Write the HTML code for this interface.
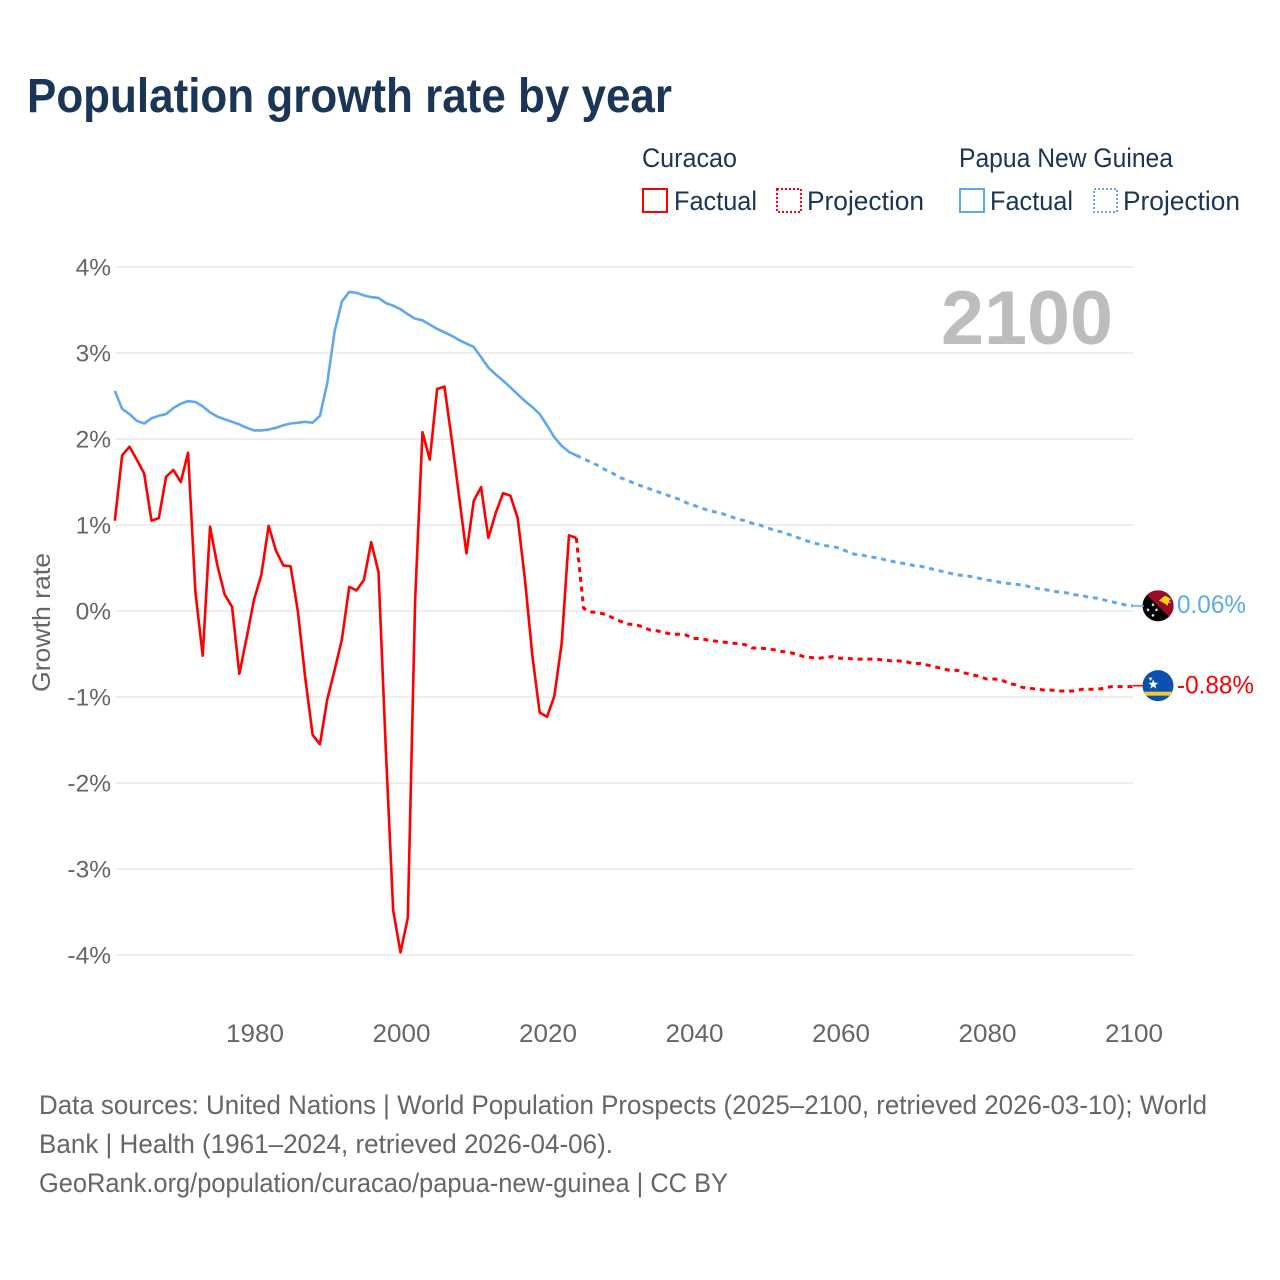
<!DOCTYPE html>
<html lang="en">
<head>
<meta charset="utf-8">
<title>Population growth rate by year</title>
<style>
html,body{margin:0;padding:0;background:#fff;}
svg{display:block;font-family:"Liberation Sans",sans-serif;}
</style>
</head>
<body>
<svg id="chart" xmlns="http://www.w3.org/2000/svg" width="1280" height="1280" viewBox="0 0 1280 1280">
  <defs>
    <clipPath id="flag-clip-a"><circle cx="0" cy="0" r="15.5"/></clipPath>
    <clipPath id="flag-clip-b"><circle cx="0" cy="0" r="15.5"/></clipPath>
  </defs>
  <rect width="1280" height="1280" fill="#fff"/>
  <text x="27" y="112" font-size="48" font-weight="700" fill="#1a3556" textLength="645" lengthAdjust="spacingAndGlyphs">Population growth rate by year</text>

  <g font-size="27" fill="#1a3556">
    <text x="642" y="167" textLength="95" lengthAdjust="spacingAndGlyphs">Curacao</text>
    <text x="959" y="167" textLength="214" lengthAdjust="spacingAndGlyphs">Papua New Guinea</text>
    <rect x="643" y="189" width="24" height="23" fill="none" stroke="#ff0000" stroke-width="2"/>
    <text x="674" y="210" textLength="83" lengthAdjust="spacingAndGlyphs">Factual</text>
    <rect x="777" y="189" width="24" height="23" fill="none" stroke="#ff0000" stroke-width="2" stroke-dasharray="2,2"/>
    <text x="807" y="210" textLength="117" lengthAdjust="spacingAndGlyphs">Projection</text>
    <rect x="960" y="189" width="24" height="23" fill="none" stroke="#5ea9ee" stroke-width="2"/>
    <text x="990" y="210" textLength="83" lengthAdjust="spacingAndGlyphs">Factual</text>
    <rect x="1094" y="189" width="23" height="23" fill="none" stroke="#5ea9ee" stroke-width="2" stroke-dasharray="2,2"/>
    <text x="1123" y="210" textLength="117" lengthAdjust="spacingAndGlyphs">Projection</text>
  </g>

  <g id="grid"></g>
  <g id="yticks"></g>
  <g id="xticks"></g>
  <text x="941" y="344" font-size="76" font-weight="700" fill="#bdbdbd" textLength="172" lengthAdjust="spacingAndGlyphs">2100</text>
  <text transform="translate(50,692) rotate(-90)" font-size="25" fill="#666" textLength="139" lengthAdjust="spacingAndGlyphs">Growth rate</text>
  <g id="series"></g>

  <g id="flag-png">
    <g clip-path="url(#flag-clip-a)">
      <rect x="-16" y="-16" width="32" height="32" fill="#000"/>
      <polygon points="-16,-16 16,-16 16,16" fill="#9b0b24"/>
      <polygon points="3,-10 6,-11 9,-9 11,-8 9,-6 11,-4 8,-4 8,-1 5,-3 2,-5 -1,-6 1,-8" fill="#fcd116" transform="translate(2,1)"/>
      <circle cx="-5" cy="-1" r="1.3" fill="#ddd"/>
      <circle cx="-10" cy="4" r="1.3" fill="#ddd"/>
      <circle cx="-1.5" cy="4" r="1.3" fill="#ddd"/>
      <circle cx="-5" cy="9.5" r="1.3" fill="#ddd"/>
    </g>
  </g>
  <g id="flag-cur">
    <g clip-path="url(#flag-clip-b)">
      <rect x="-16" y="-16" width="32" height="32" fill="#0a50b0"/>
      <rect x="-16" y="6" width="32" height="4" fill="#f9c62b"/>
      <polygon points="-5,-6.5 -3.6,-2.6 0.5,-2.6 -2.8,0 -1.6,4 -5,1.6 -8.4,4 -7.2,0 -10.5,-2.6 -6.4,-2.6" fill="#fff" transform="translate(-0.2,-0.6) scale(.9)"/>
      <polygon points="-10.5,-9 -6,-9 -8.2,-5.5" fill="#fff" transform="scale(.9)"/>
    </g>
  </g>

  <g id="end-labels"></g>

  <g font-size="26.5" fill="#666">
    <text x="39" y="1114" textLength="1168" lengthAdjust="spacingAndGlyphs">Data sources: United Nations | World Population Prospects (2025–2100, retrieved 2026-03-10); World</text>
    <text x="39" y="1153" textLength="574" lengthAdjust="spacingAndGlyphs">Bank | Health (1961–2024, retrieved 2026-04-06).</text>
    <text x="39" y="1192" textLength="689" lengthAdjust="spacingAndGlyphs">GeoRank.org/population/curacao/papua-new-guinea | CC BY</text>
  </g>
</svg>
<script>
const yTicks = [4, 3, 2, 1, 0, -1, -2, -3, -4];
const xTicks = [1980, 2000, 2020, 2040, 2060, 2080, 2100];
const factualStart = 1961;
const projectionStart = 2024;
const curacaoFactual = [
  1.05,1.81,1.91,1.76,1.60,1.05,1.08,1.56,1.64,1.50,
  1.84,0.22,-0.52,0.98,0.53,0.19,0.05,-0.73,-0.31,0.13,
  0.42,0.99,0.70,0.53,0.52,-0.01,-0.78,-1.44,-1.55,-1.03,
  -0.69,-0.33,0.28,0.24,0.36,0.80,0.45,-1.62,-3.48,-3.97,
  -3.57,0.13,2.08,1.76,2.58,2.61,1.99,1.33,0.67,1.28,
  1.44,0.85,1.14,1.37,1.34,1.08,0.36,-0.52,-1.18,-1.23,
  -0.99,-0.38,0.88,0.85
];
const curacaoProjection = [
  0.85,0.03,-0.01,-0.02,-0.04,-0.08,
  -0.12,-0.15,-0.16,-0.18,-0.22,-0.23,-0.25,-0.27,-0.27,-0.28,
  -0.32,-0.32,-0.34,-0.35,-0.36,-0.37,-0.38,-0.39,-0.43,-0.43,
  -0.44,-0.45,-0.47,-0.48,-0.50,-0.53,-0.54,-0.55,-0.54,-0.53,
  -0.55,-0.55,-0.56,-0.56,-0.56,-0.56,-0.57,-0.58,-0.58,-0.59,
  -0.61,-0.61,-0.63,-0.65,-0.67,-0.69,-0.69,-0.72,-0.74,-0.76,
  -0.79,-0.79,-0.80,-0.84,-0.86,-0.89,-0.90,-0.91,-0.92,-0.92,
  -0.93,-0.93,-0.93,-0.91,-0.91,-0.91,-0.90,-0.88,-0.88,-0.88,
  -0.88
];
const pngFactual = [
  2.56,2.35,2.29,2.21,2.18,2.24,2.27,2.29,2.36,2.41,
  2.44,2.43,2.38,2.31,2.26,2.23,2.20,2.17,2.13,2.10,
  2.10,2.11,2.13,2.16,2.18,2.19,2.20,2.19,2.27,2.65,
  3.25,3.60,3.71,3.70,3.67,3.65,3.64,3.58,3.55,3.51,
  3.45,3.40,3.38,3.33,3.28,3.24,3.20,3.15,3.11,3.07,
  2.95,2.83,2.75,2.68,2.60,2.52,2.44,2.37,2.29,2.16,
  2.02,1.92,1.85,1.81
];
const pngProjection = [
  1.81,1.77,1.73,1.69,1.64,1.60,
  1.55,1.52,1.48,1.45,1.42,1.39,1.36,1.33,1.30,1.26,
  1.23,1.20,1.17,1.15,1.13,1.10,1.07,1.05,1.02,1.00,
  0.97,0.94,0.92,0.89,0.86,0.83,0.80,0.78,0.76,0.75,
  0.73,0.69,0.66,0.65,0.63,0.62,0.60,0.58,0.56,0.55,
  0.53,0.52,0.50,0.48,0.46,0.44,0.42,0.41,0.40,0.38,
  0.36,0.35,0.33,0.32,0.31,0.30,0.28,0.26,0.25,0.23,
  0.22,0.21,0.19,0.18,0.16,0.15,0.13,0.11,0.09,0.07,
  0.06
];

const NS = 'http://www.w3.org/2000/svg';
function xScale(year) { return 254 + (year - 1980) * (1133 - 254) / 120; }
function yScale(v) { return 611 - v * 86; }
function make(tag, attrs, parent, text) {
  const el = document.createElementNS(NS, tag);
  for (const k in attrs) el.setAttribute(k, attrs[k]);
  if (text !== undefined) el.textContent = text;
  parent.appendChild(el);
  return el;
}
function linePath(values, start) {
  return values.map((v, i) => (i ? 'L' : 'M') + xScale(start + i).toFixed(2) + ' ' + yScale(v).toFixed(2)).join(' ');
}

const gridG = document.getElementById('grid');
const yG = document.getElementById('yticks');
yTicks.forEach(t => {
  const g = make('line', {x1: 116, x2: 1133, y1: yScale(t), y2: yScale(t), stroke: '#e9e9e9', 'stroke-width': 1.5}, gridG);
  
  
  const l = make('text', {x: 111, y: yScale(t) + 8.5, 'text-anchor': 'end', 'font-size': 24.5, fill: '#666'}, yG, t + '%');
  
  
});

const xG = document.getElementById('xticks');
xTicks.forEach(t => {
  const l = make('text', {x: xScale(t) + 1, y: 1042, 'text-anchor': 'middle', 'font-size': 25, fill: '#666', textLength: 58, lengthAdjust: 'spacingAndGlyphs'}, xG, String(t));
  
  
});

const sG = document.getElementById('series');
const RED = '#ff0000';
const BLUE = '#5ea9ee';

const pngF = make('path', {d: linePath(pngFactual, factualStart), fill: 'none', stroke: BLUE, 'stroke-width': 2.6, 'stroke-linejoin': 'round'}, sG);



const pngP = make('path', {d: linePath(pngProjection, projectionStart), fill: 'none', stroke: BLUE, 'stroke-width': 3, 'stroke-dasharray': '5,4.8'}, sG);



const curF = make('path', {d: linePath(curacaoFactual, factualStart), fill: 'none', stroke: RED, 'stroke-width': 2.6, 'stroke-linejoin': 'round'}, sG);



const curP = make('path', {d: linePath(curacaoProjection, projectionStart), fill: 'none', stroke: RED, 'stroke-width': 3, 'stroke-dasharray': '5,4.8'}, sG);



const endG = document.getElementById('end-labels');
const lastPng = pngProjection[pngProjection.length - 1];
const lastCur = curacaoProjection[curacaoProjection.length - 1];
const endX = xScale(2100);

const connA = make('line', {x1: endX, x2: endX + 11, y1: yScale(lastPng), y2: yScale(lastPng), stroke: BLUE, 'stroke-width': 1.5}, endG);


const connB = make('line', {x1: endX, x2: endX + 11, y1: yScale(lastCur) - 1, y2: yScale(lastCur) - 1, stroke: RED, 'stroke-width': 1.5}, endG);



document.getElementById('flag-png').setAttribute('transform', 'translate(1158,' + yScale(lastPng) + ')');
document.getElementById('flag-cur').setAttribute('transform', 'translate(1158,' + (yScale(lastCur) - 1) + ')');

const labA = make('text', {x: 1177, y: yScale(lastPng) + 7, 'font-size': 25, fill: BLUE, textLength: 69, lengthAdjust: 'spacingAndGlyphs'}, endG, lastPng.toFixed(2) + '%');


const labB = make('text', {x: 1177, y: yScale(lastCur) + 7, 'font-size': 25, fill: RED, textLength: 77, lengthAdjust: 'spacingAndGlyphs'}, endG, lastCur.toFixed(2) + '%');


</script>
</body>
</html>
